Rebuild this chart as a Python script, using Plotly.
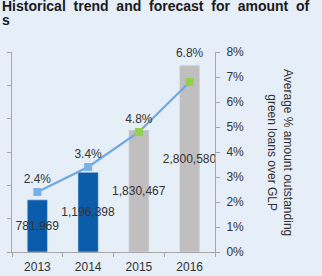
import plotly.graph_objects as go

years = ["2013", "2014", "2015", "2016"]
amounts = [781969, 1196398, 1830467, 2800580]
amount_labels = ["781,969", "1,196,398", "1,830,467", "2,800,580"]
pct = [0.024, 0.034, 0.048, 0.068]
pct_labels = ["2.4%", "3.4%", "4.8%", "6.8%<br> "]
bar_colors = ["#0B5CAA", "#0B5CAA", "#C0BEBE", "#C0BEBE"]
marker_colors = ["#79B0E6", "#79B0E6", "#92D050", "#92D050"]

BG = "#E6EEF7"
TXT = "#333333"
FONT = "Liberation Sans, Arial, sans-serif"

fig = go.Figure()
fig.add_trace(go.Bar(
    x=years, y=amounts, marker_color=bar_colors, width=0.4,
    text=amount_labels, textposition="inside", insidetextanchor="middle",
    textangle=0, constraintext="none",
    textfont=dict(family=FONT, size=12, color=TXT), showlegend=False,
))
fig.add_trace(go.Scatter(
    x=years, y=pct, yaxis="y2", mode="lines+markers+text",
    line=dict(color="#6FA8E0", width=2.2),
    marker=dict(symbol="square", size=8, color=marker_colors),
    text=pct_labels, textposition="top center",
    textfont=dict(family=FONT, size=12, color=TXT), showlegend=False,
    cliponaxis=False,
))

fig.update_layout(
    width=322, height=276,
    margin=dict(l=12, r=107, t=52, b=24),
    paper_bgcolor=BG, plot_bgcolor=BG,
    font=dict(family=FONT, size=12, color=TXT),
    xaxis=dict(showline=True, linecolor="#A6A6A6", ticks="outside", tickson="boundaries",
               ticklen=4, tickcolor="#A6A6A6", showgrid=False, automargin=False,
               ticklabelstandoff=4, tickfont=dict(size=12, color=TXT)),
    yaxis=dict(range=[0, 3000000], dtick=500000, tickformat=",", showgrid=False,
               showline=True, linecolor="#A6A6A6", ticks="outside", ticklen=4,
               tickcolor="#A6A6A6", automargin=False, zeroline=False,
               ticklabelstandoff=5, tickfont=dict(size=12, color=TXT)),
    yaxis2=dict(range=[0, 0.08], dtick=0.01, tickformat=".0%", overlaying="y",
                side="right", showgrid=False, showline=True, linecolor="#A6A6A6",
                ticks="outside", ticklen=4, tickcolor="#A6A6A6", zeroline=False,
                automargin=False, ticklabelstandoff=4,
                tickfont=dict(size=12, color=TXT)),
    annotations=[
        dict(text="<b>Historical  trend  and  forecast  for  amount  of</b>",
             xref="paper", yref="paper", x=-12/203, y=1 + (52 - 6)/200, xanchor="left",
             yanchor="middle", align="left", showarrow=False,
             font=dict(family=FONT, size=14, color="#1A1A1A")),
        dict(text="<b>s</b>",
             xref="paper", yref="paper", x=-12/203, y=1 + (52 - 20)/200, xanchor="left",
             yanchor="middle", align="left", showarrow=False,
             font=dict(family=FONT, size=14, color="#1A1A1A")),
        dict(text="Average % amount outstanding<br>green loans over GLP",
             xref="paper", yref="paper", x=(280 - 12)/203, y=0.5, textangle=90,
             xanchor="center", yanchor="middle",
             showarrow=False, font=dict(family=FONT, size=12, color=TXT)),
    ],
)

fig.write_html("out.html")
